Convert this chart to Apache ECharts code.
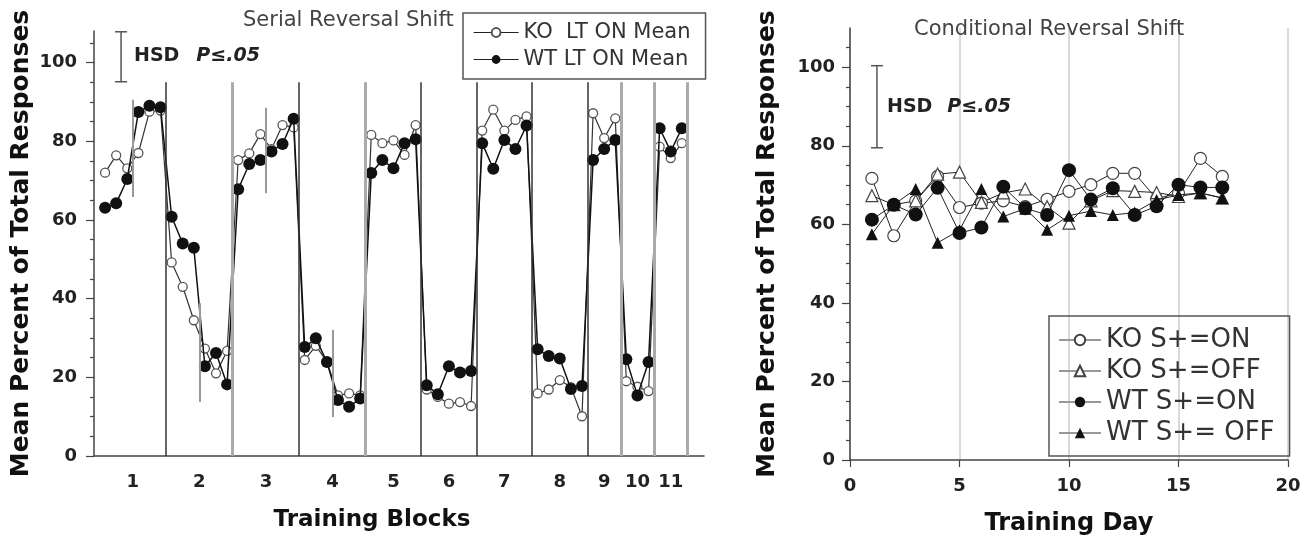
<!DOCTYPE html>
<html>
<head>
<meta charset="utf-8">
<script src="https://cdn.jsdelivr.net/npm/echarts@6/dist/echarts.min.js"></script>
<style>
  html, body { margin: 0; padding: 0; background: #fff; }
  #main { width: 1312px; height: 541px; }
</style>
</head>
<body>
<div id="main"></div>
<script>
// serial reversal: one mean per session, 53 sessions split in 11 blocks
var koSerial = [
  72.0, 76.4, 73.1, 77.0, 87.5, 87.8,
  49.2, 43.0, 34.5, 27.3, 21.0, 26.7,
  75.2, 76.9, 81.8, 78.0, 84.1, 83.5,
  24.4, 28.0, 24.0, 15.4, 15.9, 15.4,
  81.6, 79.5, 80.2, 76.5, 84.1,
  16.9, 15.0, 13.3, 13.7, 12.7,
  82.7, 88.0, 82.7, 85.4, 86.3,
  15.9, 16.9, 19.3, 17.5, 10.1,
  87.1, 80.8, 85.8,
  19.0, 17.6, 16.5,
  78.6, 75.7, 79.5
]
var wtSerial = [
  63.1, 64.2, 70.4, 87.4, 89.0, 88.6,
  60.8, 54.0, 52.9, 22.8, 26.2, 18.2,
  67.8, 74.2, 75.2, 77.4, 79.3, 85.7,
  27.7, 29.9, 23.9, 14.2, 12.5, 14.6,
  71.9, 75.2, 73.1, 79.5, 80.5,
  18.0, 15.7, 22.8, 21.2, 21.6,
  79.5, 73.0, 80.3, 78.0, 84.0,
  27.1, 25.4, 24.8, 17.0, 17.8,
  75.2, 78.0, 80.3,
  24.6, 15.4, 23.9,
  83.3, 77.4, 83.3
]
var blockNames = ['1', '2', '3', '4', '5', '6', '7', '8', '9', '10', '11']
var blockCenters = [3.5, 9.5, 15.5, 21.5, 27, 32, 37, 42, 46, 49, 52]
var shiftBounds = [6.5, 18.5, 29.5, 34.5, 39.5, 44.5]
var otherBounds = [12.5, 24.5, 47.5, 50.5, 53.5]
var boundTop = 95
var errCenters = [3.5, 9.5, 15.5, 21.5]
var errLow = [65.8, 13.7, 66.8, 9.9]
var errHigh = [90.5, 38.8, 88.5, 32.0]
var hsdSerial = [2.44, 95.1, 107.8]

// conditional reversal: training days 1..17
var days = [1, 2, 3, 4, 5, 6, 7, 8, 9, 10, 11, 12, 13, 14, 15, 16, 17]
var koOn  = [71.7, 57.1, 66.0, 72.2, 64.3, 65.4, 66.0, 64.5, 66.4, 68.4, 70.1, 73.0, 73.0, 66.5, 68.0, 76.8, 72.2]
var koOff = [67.3, 65.0, 66.0, 72.8, 73.3, 65.6, 68.0, 69.0, 64.5, 60.3, 66.0, 68.6, 68.4, 68.1, 67.1, 68.0, 66.7]
var wtOn  = [61.2, 65.0, 62.5, 69.3, 57.8, 59.2, 69.6, 64.1, 62.4, 73.8, 66.3, 69.2, 62.4, 64.6, 70.1, 69.4, 69.4]
var wtOff = [57.5, 65.0, 69.0, 55.3, 58.5, 69.0, 62.0, 64.0, 58.6, 62.2, 63.4, 62.4, 63.0, 66.2, 67.5, 68.0, 66.7]
var hsdCond = [1.23, 79.5, 100.4]

var majorY = [0, 20, 40, 60, 80, 100]
var minorY = [5, 10, 15, 25, 30, 35, 45, 50, 55, 65, 70, 75, 85, 90, 95, 105]

var FONT = 'DejaVu Sans'
var AXIS = '#444'

var chart = echarts.init(document.getElementById('main'))

function pairs(xs, ys) {
  return xs.map(function (x, i) { return [x, ys[i]] })
}

function hsdRender(params, api) {
  var top = api.coord([api.value(0), api.value(2)])
  var bot = api.coord([api.value(0), api.value(1)])
  var st = {stroke: '#555', lineWidth: 1.5}
  return {type: 'group', children: [
    {type: 'line', shape: {x1: top[0], y1: top[1], x2: bot[0], y2: bot[1]}, style: st},
    {type: 'line', shape: {x1: top[0] - 6, y1: top[1], x2: top[0] + 6, y2: top[1]}, style: st},
    {type: 'line', shape: {x1: bot[0] - 6, y1: bot[1], x2: bot[0] + 6, y2: bot[1]}, style: st}
  ]}
}

var boundLines = []
shiftBounds.forEach(function (x) {
  boundLines.push([{coord: [x, 0], lineStyle: {color: '#333', width: 1.5, type: 'solid'}}, {coord: [x, boundTop]}])
})
otherBounds.forEach(function (x) {
  boundLines.push([{coord: [x, 0], lineStyle: {color: '#aaa', width: 3, type: 'solid'}}, {coord: [x, boundTop]}])
})
errCenters.forEach(function (x, i) {
  boundLines.push([{coord: [x, errLow[i]], lineStyle: {color: '#999', width: 2, type: 'solid'}}, {coord: [x, errHigh[i]]}])
})

var labelStyle = {fontFamily: FONT, fontWeight: 'bold', fontSize: 18, color: '#222'}
var nameStyle = {fontFamily: FONT, fontWeight: 'bold', fontSize: 25, color: '#111'}

var majorYAxis = function (grid, max, margin, gap) {
  return {
    type: 'value', gridIndex: grid, position: 'left', min: 0, max: max,
    name: 'Mean Percent of Total Responses', nameLocation: 'middle', nameGap: gap,
    nameTextStyle: nameStyle,
    axisLine: {show: true, lineStyle: {color: AXIS, width: 1.5}},
    axisTick: {show: true, inside: false, length: 8, customValues: majorY, lineStyle: {color: AXIS, width: 1.2}},
    axisLabel: Object.assign({margin: margin, customValues: majorY}, labelStyle),
    splitLine: {show: false}
  }
}
var minorYAxis = function (grid, max) {
  return {
    type: 'value', gridIndex: grid, position: 'left', min: 0, max: max,
    axisLine: {show: false},
    axisTick: {show: true, inside: false, length: 4, customValues: minorY, lineStyle: {color: AXIS, width: 1.2}},
    axisLabel: {show: false},
    splitLine: {show: false}
  }
}

var option = {
  animation: false,
  backgroundColor: '#fff',
  title: [
    {text: 'Serial Reversal Shift', left: 243, top: 10, padding: 0,
      textStyle: {fontFamily: FONT, fontSize: 21, fontWeight: 'normal', color: '#444'}},
    {text: 'Conditional Reversal Shift', left: 914, top: 19, padding: 0,
      textStyle: {fontFamily: FONT, fontSize: 21, fontWeight: 'normal', color: '#444'}}
  ],
  grid: [
    {left: 94, top: 31, width: 610, height: 425},
    {left: 850, top: 28, width: 438, height: 433}
  ],
  legend: [
    {
      data: ['KO  LT ON Mean', 'WT LT ON Mean'], orient: 'vertical',
      left: 463, top: 13, padding: [9, 15, 9, 10], itemGap: 6,
      itemWidth: 45, itemHeight: 11, borderColor: '#555', borderWidth: 1.5,
      lineStyle: {color: '#222', width: 1.2},
      textStyle: {fontFamily: FONT, fontSize: 21, color: '#333'}
    },
    {
      data: ['KO S+=ON', 'KO S+=OFF', 'WT S+=ON', 'WT S+= OFF'], orient: 'vertical',
      left: 1049, top: 316, padding: [11, 15, 10, 9], itemGap: 5,
      itemWidth: 42, itemHeight: 13, borderColor: '#555', borderWidth: 1.5,
      lineStyle: {color: '#999', width: 2},
      textStyle: {fontFamily: FONT, fontSize: 26, color: '#333'}
    }
  ],
  xAxis: [
    {
      type: 'value', gridIndex: 0, min: 0, max: 55,
      name: 'Training Blocks', nameLocation: 'middle', nameGap: 53,
      nameTextStyle: Object.assign({padding: [0, 54, 0, 0]}, nameStyle, {fontSize: 23}),
      axisLine: {show: true, lineStyle: {color: AXIS, width: 1.5}},
      axisTick: {show: false},
      axisLabel: Object.assign({margin: 17, customValues: blockCenters, formatter: function (v) {
        return blockNames[blockCenters.indexOf(v)]
      }}, labelStyle),
      splitLine: {show: false}
    },
    {
      type: 'value', gridIndex: 1, min: 0, max: 20, interval: 5,
      name: 'Training Day', nameLocation: 'middle', nameGap: 52,
      nameTextStyle: Object.assign({}, nameStyle, {fontSize: 24}),
      axisLine: {show: true, lineStyle: {color: AXIS, width: 1.5}},
      axisTick: {show: true, inside: false, length: 7, lineStyle: {color: AXIS, width: 1.2}},
      axisLabel: Object.assign({margin: 17}, labelStyle),
      splitLine: {show: true, lineStyle: {color: '#ccc', width: 1.5}}
    }
  ],
  yAxis: [
    majorYAxis(0, 108, 17, 60),
    minorYAxis(0, 108),
    majorYAxis(1, 110, 15, 70),
    minorYAxis(1, 110)
  ],
  graphic: [
    {type: 'text', x: 134, y: 56, z: 10, style: {
      text: '{a|HSD}{g|}{b|P≤.05}', verticalAlign: 'middle',
      rich: {
        a: {fontFamily: FONT, fontWeight: 'bold', fontSize: 19, fill: '#222'},
        g: {width: 17},
        b: {fontFamily: FONT, fontWeight: 'bold', fontStyle: 'italic', fontSize: 19, fill: '#222'}
      }
    }},
    {type: 'text', x: 887, y: 107, z: 10, style: {
      text: '{a|HSD}{g|}{b|P≤.05}', verticalAlign: 'middle',
      rich: {
        a: {fontFamily: FONT, fontWeight: 'bold', fontSize: 19, fill: '#222'},
        g: {width: 15},
        b: {fontFamily: FONT, fontWeight: 'bold', fontStyle: 'italic', fontSize: 19, fill: '#222'}
      }
    }}
  ],
  series: [
    {
      name: 'KO  LT ON Mean', type: 'line', xAxisIndex: 0, yAxisIndex: 0, z: 3,
      data: koSerial.map(function (v, i) { return [i + 1, v] }),
      symbol: 'circle', symbolSize: 9,
      itemStyle: {color: '#fff', borderColor: '#555', borderWidth: 1.3},
      lineStyle: {color: '#333', width: 1.2},
      markLine: {silent: true, symbol: ['none', 'none'], label: {show: false}, data: boundLines}
    },
    {
      name: 'WT LT ON Mean', type: 'line', xAxisIndex: 0, yAxisIndex: 0, z: 4,
      data: wtSerial.map(function (v, i) { return [i + 1, v] }),
      symbol: 'circle', symbolSize: 12,
      itemStyle: {color: '#111'},
      lineStyle: {color: '#111', width: 1.5}
    },
    {
      type: 'custom', xAxisIndex: 0, yAxisIndex: 0, silent: true, z: 5,
      data: [hsdSerial], encode: {x: 0, y: [1, 2]}, renderItem: hsdRender
    },
    {
      name: 'KO S+=ON', type: 'line', xAxisIndex: 1, yAxisIndex: 2, z: 3,
      data: pairs(days, koOn), symbol: 'circle', symbolSize: 12,
      itemStyle: {color: '#fff', borderColor: '#444', borderWidth: 1.2},
      lineStyle: {color: '#222', width: 1}
    },
    {
      name: 'KO S+=OFF', type: 'line', xAxisIndex: 1, yAxisIndex: 2, z: 3,
      data: pairs(days, koOff), symbol: 'triangle', symbolSize: 12,
      itemStyle: {color: '#fff', borderColor: '#444', borderWidth: 1.2},
      lineStyle: {color: '#222', width: 1}
    },
    {
      name: 'WT S+=ON', type: 'line', xAxisIndex: 1, yAxisIndex: 2, z: 4,
      data: pairs(days, wtOn), symbol: 'circle', symbolSize: 14,
      itemStyle: {color: '#111'},
      lineStyle: {color: '#222', width: 1}
    },
    {
      name: 'WT S+= OFF', type: 'line', xAxisIndex: 1, yAxisIndex: 2, z: 4,
      data: pairs(days, wtOff), symbol: 'triangle', symbolSize: 12,
      itemStyle: {color: '#111'},
      lineStyle: {color: '#222', width: 1}
    },
    {
      type: 'custom', xAxisIndex: 1, yAxisIndex: 2, silent: true, z: 5,
      data: [hsdCond], encode: {x: 0, y: [1, 2]}, renderItem: hsdRender
    }
  ]
}

chart.setOption(option)
</script>
</body>
</html>
